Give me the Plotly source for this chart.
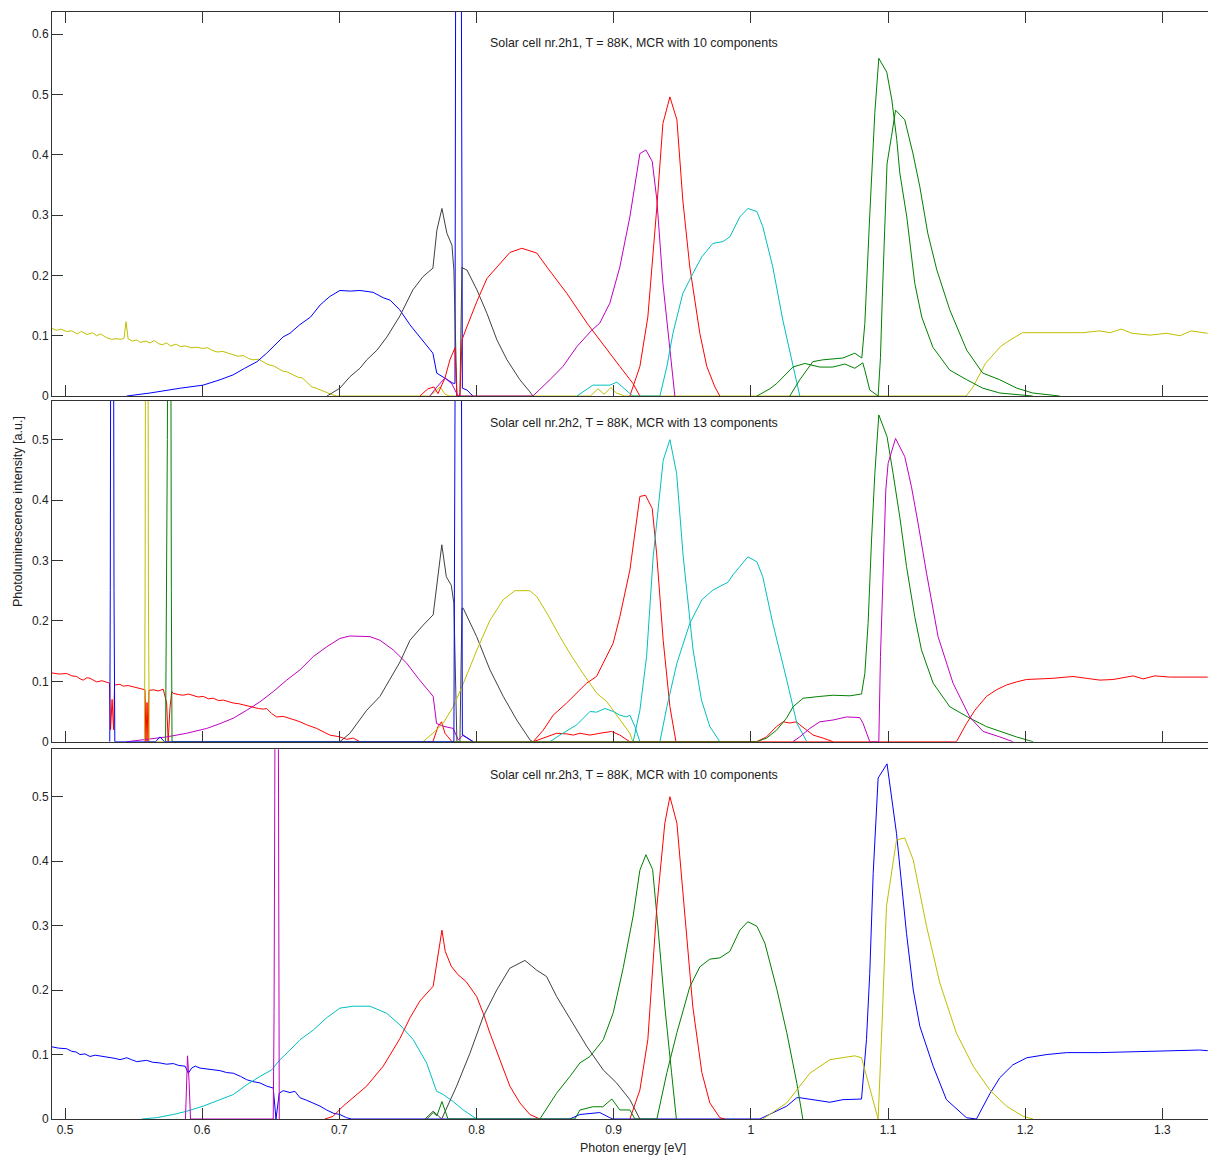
import plotly.graph_objects as go

# ---------------- data (photon energy [eV], intensity [a.u.]) ----------------
# Panel 1: Solar cell nr.2h1
top_yellow = [(0.4905, 0.112), (0.494, 0.109), (0.497, 0.111), (0.501, 0.107), (0.505, 0.108), (0.509, 0.103),
              (0.512, 0.107), (0.516, 0.102), (0.520, 0.105), (0.523, 0.100), (0.526, 0.103), (0.530, 0.097),
              (0.534, 0.094), (0.538, 0.095), (0.541, 0.094), (0.543, 0.096), (0.5445, 0.123), (0.546, 0.095),
              (0.549, 0.091), (0.552, 0.093), (0.555, 0.089), (0.559, 0.091), (0.562, 0.088), (0.565, 0.092),
              (0.568, 0.087), (0.571, 0.085), (0.574, 0.088), (0.577, 0.083), (0.581, 0.086), (0.584, 0.082),
              (0.588, 0.083), (0.592, 0.080), (0.596, 0.081), (0.600, 0.079), (0.604, 0.080), (0.607, 0.076),
              (0.611, 0.073), (0.615, 0.074), (0.619, 0.071), (0.622, 0.069), (0.626, 0.066), (0.630, 0.067),
              (0.634, 0.062), (0.637, 0.060), (0.641, 0.061), (0.645, 0.056), (0.648, 0.052), (0.652, 0.050),
              (0.655, 0.046), (0.659, 0.041), (0.662, 0.040), (0.666, 0.035), (0.670, 0.031), (0.673, 0.030),
              (0.677, 0.022), (0.680, 0.015), (0.683, 0.013), (0.686, 0.010), (0.689, 0.007), (0.692, 0.005),
              (0.695, 0.002), (0.698, 0.0), (0.766, 0.0), (0.770, 0.008), (0.7735, 0.015), (0.777, 0.003),
              (0.780, 0.0), (0.883, 0.0), (0.8885, 0.012), (0.893, 0.003), (0.898, 0.014), (0.902, 0.005),
              (0.908, 0.0), (1.157, 0.0), (1.162, 0.015), (1.171, 0.054), (1.182, 0.082), (1.187, 0.090),
              (1.198, 0.105), (1.218, 0.105), (1.242, 0.105), (1.254, 0.108), (1.262, 0.105), (1.270, 0.111),
              (1.278, 0.104), (1.291, 0.101), (1.303, 0.104), (1.313, 0.100), (1.321, 0.108), (1.333, 0.104)]
top_blue = [(0.545, 0.0), (0.562, 0.005), (0.584, 0.013), (0.6006, 0.018), (0.613, 0.027), (0.6225, 0.035),
            (0.631, 0.046), (0.640, 0.057), (0.647, 0.071), (0.6545, 0.087), (0.659, 0.098), (0.664, 0.104),
            (0.671, 0.118), (0.679, 0.131), (0.686, 0.151), (0.693, 0.165), (0.7004, 0.175), (0.708, 0.174),
            (0.715, 0.175), (0.7245, 0.172), (0.732, 0.163), (0.737, 0.159), (0.744, 0.143), (0.7515, 0.118),
            (0.7587, 0.098), (0.7682, 0.071), (0.771, 0.038), (0.777, 0.030), (0.783, 0.021), (0.7843, 0.021),
            (0.785, 1.0), (0.7886, 1.0), (0.7897, 0.013), (0.793, 0.010), (0.7974, 0.0)]
top_black = [(0.691, 0.0), (0.7004, 0.013), (0.7077, 0.032), (0.715, 0.046), (0.72, 0.06), (0.7274, 0.076),
             (0.7347, 0.098), (0.7442, 0.133), (0.7536, 0.176), (0.761, 0.198), (0.7682, 0.212), (0.7711, 0.275),
             (0.7748, 0.311), (0.7784, 0.27), (0.7821, 0.25), (0.7835, 0.209), (0.7857, 0.0), (0.7879, 0.0),
             (0.7894, 0.214), (0.7901, 0.212), (0.793, 0.209), (0.8003, 0.176), (0.8076, 0.137), (0.8149, 0.093),
             (0.8222, 0.06), (0.8316, 0.027), (0.8389, 0.007), (0.8411, 0.0)]
top_red1 = [(0.7587, 0.0), (0.7646, 0.012), (0.769, 0.015), (0.7719, 0.004), (0.777, 0.03), (0.7806, 0.06),
            (0.7843, 0.08), (0.7857, 0.0), (0.7879, 0.0), (0.7894, 0.093), (0.793, 0.115), (0.8003, 0.157),
            (0.8076, 0.195), (0.8171, 0.22), (0.8243, 0.238), (0.833, 0.245), (0.844, 0.237), (0.8513, 0.214),
            (0.8659, 0.17), (0.8805, 0.121), (0.8951, 0.076), (0.9045, 0.049), (0.914, 0.021), (0.9191, 0.0)]
top_red2 = [(0.9118, 0.0), (0.9191, 0.049), (0.9249, 0.131), (0.9315, 0.314), (0.9359, 0.452), (0.941, 0.496),
            (0.9461, 0.458), (0.9504, 0.325), (0.9555, 0.214), (0.9628, 0.104), (0.9679, 0.049), (0.9738, 0.015),
            (0.9774, 0.0)]
top_magenta = [(0.766, 0.0), (0.7711, 0.015), (0.777, 0.03), (0.7821, 0.02), (0.7865, 0.0), (0.8411, 0.0),
               (0.8535, 0.027), (0.863, 0.049), (0.8732, 0.082), (0.884, 0.109), (0.8899, 0.121), (0.8972, 0.154),
               (0.9045, 0.214), (0.9118, 0.297), (0.9191, 0.402), (0.9235, 0.408), (0.9281, 0.389), (0.9315, 0.325),
               (0.9359, 0.187), (0.941, 0.076), (0.9446, 0.0)]
top_cyan = [(0.8732, 0.0), (0.8848, 0.018), (0.8921, 0.018), (0.8972, 0.018), (0.9023, 0.023), (0.9082, 0.012),
            (0.914, 0.0), (0.9337, 0.0), (0.9388, 0.049), (0.9432, 0.104), (0.9504, 0.17), (0.9577, 0.203),
            (0.9643, 0.231), (0.9723, 0.253), (0.9796, 0.256), (0.9847, 0.264), (0.992, 0.297), (0.9978, 0.311),
            (1.0044, 0.306), (1.0087, 0.281), (1.016, 0.214), (1.0233, 0.126), (1.0306, 0.049), (1.0357, 0.0)]
top_green1 = [(1.0044, 0.0), (1.0139, 0.012), (1.019, 0.021), (1.0306, 0.048), (1.0394, 0.054), (1.0503, 0.048),
              (1.0598, 0.048), (1.0685, 0.053), (1.0758, 0.046), (1.0816, 0.055), (1.0831, 0.043), (1.0867, 0.01),
              (1.0928, 0.0), (1.0945, 0.064), (1.096, 0.174), (1.0977, 0.285), (1.0993, 0.385), (1.1025, 0.43),
              (1.1055, 0.474), (1.1122, 0.458), (1.1181, 0.403), (1.1232, 0.347), (1.129, 0.27), (1.1356, 0.209),
              (1.145, 0.143), (1.1574, 0.076), (1.1691, 0.038), (1.1815, 0.027), (1.1939, 0.013), (1.2055, 0.005),
              (1.2252, 0.0)]
top_green2 = [(1.0284, 0.0), (1.0357, 0.027), (1.0452, 0.057), (1.0525, 0.06), (1.0671, 0.063), (1.0758, 0.071),
              (1.0809, 0.063), (1.0831, 0.12), (1.0867, 0.3), (1.0904, 0.47), (1.0933, 0.56), (1.0991, 0.537),
              (1.1028, 0.491), (1.1064, 0.425), (1.1086, 0.37), (1.1137, 0.297), (1.1195, 0.187), (1.1246, 0.131),
              (1.1327, 0.081), (1.145, 0.043), (1.1574, 0.027), (1.1691, 0.013), (1.1815, 0.005), (1.2055, 0.0)]

# Panel 2: Solar cell nr.2h2
mid_red1 = [(0.4903, 0.114), (0.4955, 0.112), (0.5012, 0.113), (0.5050, 0.109), (0.5085, 0.108), (0.5110, 0.104),
            (0.5133, 0.102), (0.5160, 0.106), (0.5182, 0.105), (0.5210, 0.101), (0.5231, 0.099), (0.5270, 0.101),
            (0.5304, 0.098), (0.5324, 0.097), (0.5332, 0.02), (0.5343, 0.07), (0.5354, 0.02), (0.5361, 0.095),
            (0.5364, 0.094), (0.5400, 0.095), (0.5425, 0.092), (0.5460, 0.093), (0.5498, 0.091), (0.5547, 0.088),
            (0.5583, 0.086), (0.559, 0.0), (0.5598, 0.065), (0.5605, 0.0), (0.5612, 0.085), (0.5644, 0.086),
            (0.5680, 0.084), (0.5716, 0.087), (0.5741, 0.064), (0.5752, 0.0), (0.5765, 0.056), (0.5778, 0.083),
            (0.5789, 0.08), (0.5830, 0.078), (0.5862, 0.077), (0.5900, 0.079), (0.5935, 0.077), (0.5970, 0.074),
            (0.6008, 0.075), (0.6045, 0.071), (0.6081, 0.072), (0.6120, 0.068), (0.6154, 0.069), (0.6190, 0.066),
            (0.6227, 0.064), (0.6265, 0.063), (0.63, 0.061), (0.6335, 0.059), (0.6372, 0.058), (0.6410, 0.055),
            (0.6445, 0.054), (0.647, 0.055), (0.6505, 0.047), (0.6543, 0.041), (0.6590, 0.042), (0.664, 0.039),
            (0.6675, 0.036), (0.6713, 0.033), (0.6762, 0.028), (0.6835, 0.022), (0.6880, 0.017), (0.6931, 0.011),
            (0.7004, 0.008), (0.7053, 0.004), (0.7101, 0.006), (0.715, 0.0), (0.7682, 0.0), (0.7719, 0.025),
            (0.7745, 0.033), (0.777, 0.014), (0.7792, 0.008), (0.7821, 0.0), (1.1499, 0.0), (1.1572, 0.03),
            (1.1633, 0.052), (1.1718, 0.075), (1.1791, 0.086), (1.1864, 0.094), (1.1937, 0.099), (1.2009, 0.103),
            (1.2203, 0.105), (1.2349, 0.108), (1.2447, 0.105), (1.2544, 0.102), (1.2641, 0.103), (1.2787, 0.109),
            (1.286, 0.104), (1.2945, 0.109), (1.3054, 0.107), (1.3176, 0.107), (1.3331, 0.107)]
mid_red2 = [(0.8413, 0.0), (0.8486, 0.019), (0.8559, 0.044), (0.8657, 0.064), (0.8754, 0.086), (0.8803, 0.097),
            (0.8875, 0.108), (0.8948, 0.141), (0.8996, 0.163), (0.9045, 0.207), (0.9118, 0.284), (0.9191, 0.406),
            (0.9232, 0.408), (0.9281, 0.386), (0.9313, 0.312), (0.9361, 0.168), (0.941, 0.058), (0.9454, 0.0)]
mid_red3 = [(0.8413, 0.0), (0.8511, 0.008), (0.8584, 0.014), (0.8657, 0.013), (0.8705, 0.011), (0.8754, 0.014),
            (0.8827, 0.011), (0.8899, 0.014), (0.8985, 0.017), (0.9045, 0.011), (0.9118, 0.0), (1.0042, 0.0),
            (1.0114, 0.008), (1.0187, 0.025), (1.0236, 0.033), (1.0284, 0.031), (1.0333, 0.033), (1.0357, 0.028),
            (1.0406, 0.019), (1.0454, 0.011), (1.0527, 0.006), (1.06, 0.0)]
mid_blue = [(0.5326, 0.0), (0.533, 0.25), (0.5335, 1.0), (0.5352, 1.0), (0.5357, 0.25), (0.5363, 0.0),
            (0.566, 0.0), (0.5692, 0.008), (0.5725, 0.0), (0.7835, 0.0), (0.785, 1.0), (0.7886, 1.0),
            (0.7897, 0.011), (0.7976, 0.0)]
mid_yellow = [(0.5579, 0.0), (0.5584, 0.25), (0.5588, 1.0), (0.5603, 1.0), (0.5608, 0.25), (0.5614, 0.0),
              (0.7609, 0.0), (0.7682, 0.014), (0.7755, 0.03), (0.783, 0.058), (0.7894, 0.091), (0.8003, 0.152),
              (0.8098, 0.201), (0.8194, 0.235), (0.828, 0.25), (0.8389, 0.25), (0.844, 0.24), (0.8513, 0.213),
              (0.8608, 0.174), (0.8681, 0.146), (0.8776, 0.113), (0.8878, 0.08), (0.8951, 0.066), (0.9045, 0.036),
              (0.9118, 0.014), (0.914, 0.0)]
mid_green = [(0.5733, 0.0), (0.5738, 0.165), (0.5746, 0.5), (0.5754, 1.0), (0.5769, 1.0), (0.5775, 0.25),
             (0.578, 0.0), (1.0042, 0.0), (1.0114, 0.006), (1.0187, 0.019), (1.026, 0.039), (1.0308, 0.058),
             (1.0381, 0.072), (1.0503, 0.075), (1.06, 0.077), (1.0722, 0.076), (1.0807, 0.079), (1.0831, 0.113),
             (1.0855, 0.196), (1.088, 0.334), (1.0904, 0.444), (1.0933, 0.541), (1.0993, 0.505), (1.1037, 0.444),
             (1.1086, 0.372), (1.1135, 0.29), (1.1195, 0.207), (1.1244, 0.152), (1.1329, 0.097), (1.145, 0.058),
             (1.1596, 0.039), (1.1718, 0.025), (1.1815, 0.017), (1.1936, 0.008), (1.2058, 0.0)]
mid_magenta1 = [(0.545, 0.0), (0.5571, 0.003), (0.5692, 0.006), (0.5741, 0.008), (0.5887, 0.014), (0.6033, 0.022),
                (0.613, 0.03), (0.6227, 0.039), (0.6324, 0.052), (0.6421, 0.066), (0.6518, 0.083), (0.6616, 0.102),
                (0.6713, 0.119), (0.681, 0.141), (0.6907, 0.157), (0.7004, 0.171), (0.7077, 0.175), (0.715, 0.174),
                (0.7223, 0.174), (0.7296, 0.168), (0.7393, 0.152), (0.7442, 0.141), (0.7491, 0.13), (0.7575, 0.105),
                (0.7684, 0.075), (0.7709, 0.03), (0.777, 0.025), (0.783, 0.022), (0.7867, 0.003), (0.7903, 0.011),
                (0.7976, 0.0)]
mid_magenta2 = [(1.0306, 0.0), (1.0357, 0.008), (1.043, 0.022), (1.0503, 0.033), (1.06, 0.036), (1.0697, 0.041),
                (1.0794, 0.04), (1.0819, 0.03), (1.0867, 0.0), (1.0933, 0.0), (1.0945, 0.141), (1.0964, 0.279),
                (1.0984, 0.417), (1.1001, 0.461), (1.1055, 0.502), (1.1122, 0.472), (1.1171, 0.422), (1.1219, 0.362),
                (1.1281, 0.279), (1.1365, 0.174), (1.1474, 0.097), (1.1596, 0.041), (1.1693, 0.017), (1.1815, 0.008),
                (1.1912, 0.0)]
mid_black = [(0.7004, 0.0), (0.7077, 0.014), (0.7199, 0.052), (0.7296, 0.075), (0.7442, 0.132), (0.7515, 0.168),
             (0.7611, 0.193), (0.7684, 0.21), (0.7747, 0.326), (0.778, 0.273), (0.7816, 0.259), (0.7835, 0.229),
             (0.7857, 0.0), (0.7879, 0.0), (0.7894, 0.221), (0.7903, 0.221), (0.8001, 0.174), (0.8098, 0.119),
             (0.8195, 0.075), (0.8293, 0.036), (0.839, 0.003), (0.8411, 0.0)]
mid_cyan1 = [(0.9142, 0.0), (0.9191, 0.052), (0.924, 0.141), (0.9288, 0.306), (0.9361, 0.466), (0.941, 0.5),
             (0.9459, 0.444), (0.9507, 0.306), (0.9579, 0.152), (0.964, 0.069), (0.9701, 0.025), (0.9774, 0.0)]
mid_cyan2 = [(0.9337, 0.0), (0.9388, 0.058), (0.9461, 0.13), (0.9555, 0.196), (0.9643, 0.235), (0.9723, 0.251),
             (0.9833, 0.264), (0.9869, 0.276), (0.9978, 0.306), (1.0044, 0.298), (1.0087, 0.273), (1.016, 0.196),
             (1.0262, 0.102), (1.0335, 0.031), (1.0408, 0.0)]
mid_cyan3 = [(0.8535, 0.0), (0.8608, 0.011), (0.8731, 0.028), (0.8827, 0.05), (0.8876, 0.049), (0.8936, 0.055),
             (0.8997, 0.05), (0.9045, 0.044), (0.9094, 0.041), (0.9118, 0.044), (0.9155, 0.025), (0.9191, 0.0)]

# Panel 3: Solar cell nr.2h3
bot_blue = [(0.4903, 0.112), (0.4951, 0.11), (0.5012, 0.109), (0.5049, 0.105), (0.5080, 0.104), (0.5109, 0.1),
            (0.5145, 0.101), (0.5182, 0.097), (0.5220, 0.099), (0.5255, 0.098), (0.5290, 0.096), (0.5328, 0.095),
            (0.5365, 0.094), (0.5401, 0.092), (0.545, 0.095), (0.5485, 0.092), (0.5523, 0.089), (0.5595, 0.091),
            (0.5640, 0.088), (0.5692, 0.087), (0.5740, 0.085), (0.5789, 0.086), (0.5830, 0.083), (0.5875, 0.082),
            (0.5899, 0.071), (0.5923, 0.079), (0.5950, 0.082), (0.5984, 0.079), (0.6081, 0.076), (0.6130, 0.075),
            (0.6179, 0.072), (0.6227, 0.071), (0.6280, 0.066), (0.6324, 0.061), (0.6370, 0.058), (0.6421, 0.056),
            (0.647, 0.051), (0.6518, 0.048), (0.6538, 0.0), (0.6562, 0.04), (0.6591, 0.044), (0.664, 0.041),
            (0.6676, 0.043), (0.6713, 0.033), (0.6762, 0.029), (0.681, 0.025), (0.6859, 0.02), (0.6907, 0.014),
            (0.6956, 0.009), (0.7004, 0.007), (0.7053, 0.002), (0.709, 0.0), (0.8681, 0.0), (0.8754, 0.007),
            (0.8899, 0.01), (0.8972, 0.002), (0.8994, 0.0), (1.0066, 0.0), (1.0262, 0.02), (1.0335, 0.033),
            (1.0357, 0.033), (1.0576, 0.026), (1.0671, 0.03), (1.0807, 0.031), (1.0843, 0.123), (1.0867, 0.226),
            (1.0892, 0.381), (1.0928, 0.529), (1.0993, 0.551), (1.1062, 0.443), (1.1135, 0.288), (1.1184, 0.2),
            (1.1232, 0.144), (1.1329, 0.082), (1.1426, 0.03), (1.1572, 0.002), (1.1645, 0.0), (1.1742, 0.039),
            (1.1815, 0.064), (1.191, 0.084), (1.2012, 0.095), (1.2157, 0.1), (1.2303, 0.103), (1.2544, 0.103),
            (1.2784, 0.104), (1.3032, 0.105), (1.3272, 0.107), (1.3331, 0.106)]
bot_cyan = [(0.5558, 0.0), (0.5667, 0.002), (0.5789, 0.007), (0.5887, 0.012), (0.6008, 0.02), (0.613, 0.03),
            (0.6227, 0.038), (0.6324, 0.053), (0.6421, 0.066), (0.6506, 0.076), (0.6567, 0.092), (0.664, 0.107),
            (0.6713, 0.123), (0.681, 0.138), (0.6907, 0.157), (0.7004, 0.172), (0.7101, 0.175), (0.7223, 0.175),
            (0.7345, 0.164), (0.7442, 0.146), (0.7539, 0.123), (0.7636, 0.087), (0.7709, 0.043), (0.7757, 0.038),
            (0.783, 0.027), (0.7903, 0.014), (0.8001, 0.0)]
bot_red1 = [(0.6895, 0.0), (0.6953, 0.004), (0.7028, 0.02), (0.7101, 0.033), (0.7199, 0.051), (0.732, 0.082),
            (0.7442, 0.125), (0.7515, 0.157), (0.7587, 0.183), (0.7684, 0.206), (0.7721, 0.257), (0.7748, 0.293),
            (0.7772, 0.26), (0.7816, 0.237), (0.7864, 0.224), (0.7925, 0.213), (0.8001, 0.19), (0.8049, 0.164),
            (0.8098, 0.133), (0.8171, 0.092), (0.8243, 0.051), (0.8316, 0.025), (0.8389, 0.007), (0.8462, 0.0)]
bot_red2 = [(0.9118, 0.0), (0.9191, 0.045), (0.9249, 0.123), (0.9315, 0.33), (0.9373, 0.459), (0.941, 0.5),
            (0.9461, 0.459), (0.9504, 0.356), (0.9577, 0.174), (0.9643, 0.072), (0.9701, 0.025), (0.9774, 0.002),
            (0.981, 0.0)]
bot_black = [(0.7624, 0.0), (0.7684, 0.012), (0.7721, 0.005), (0.7746, 0.0), (0.7855, 0.051), (0.7952, 0.102),
             (0.8049, 0.159), (0.8147, 0.2), (0.8243, 0.234), (0.8353, 0.246), (0.8438, 0.231), (0.8511, 0.221),
             (0.8584, 0.19), (0.8657, 0.164), (0.8803, 0.113), (0.8924, 0.076), (0.9021, 0.056), (0.9118, 0.03),
             (0.9191, 0.0)]
bot_green1 = [(0.8462, 0.0), (0.8584, 0.04), (0.8681, 0.066), (0.8754, 0.087), (0.8827, 0.097), (0.8924, 0.123),
              (0.8997, 0.165), (0.907, 0.235), (0.9142, 0.315), (0.9191, 0.386), (0.9235, 0.41), (0.9284, 0.387),
              (0.932, 0.304), (0.9373, 0.174), (0.9422, 0.072), (0.9457, 0.0)]
bot_green2 = [(0.7638, 0.0), (0.7684, 0.01), (0.7711, 0.005), (0.7748, 0.027), (0.7792, 0.0), (0.8717, 0.0),
              (0.8754, 0.014), (0.8848, 0.019), (0.8921, 0.019), (0.8987, 0.031), (0.9045, 0.014), (0.9118, 0.014),
              (0.9155, 0.0), (0.9315, 0.0), (0.9388, 0.072), (0.9461, 0.134), (0.9555, 0.205), (0.9628, 0.236),
              (0.9701, 0.248), (0.9774, 0.25), (0.9847, 0.26), (0.992, 0.293), (0.9978, 0.306), (1.0044, 0.299),
              (1.0102, 0.273), (1.019, 0.201), (1.0262, 0.134), (1.0335, 0.056), (1.0379, 0.0)]
bot_yellow = [(1.0088, 0.0), (1.0262, 0.025), (1.0357, 0.051), (1.043, 0.071), (1.0576, 0.092), (1.0673, 0.095),
              (1.0758, 0.098), (1.0807, 0.095), (1.0843, 0.066), (1.0928, 0.0), (1.0952, 0.123), (1.0989, 0.33),
              (1.1062, 0.433), (1.1122, 0.436), (1.1184, 0.402), (1.1281, 0.299), (1.1378, 0.211), (1.1499, 0.133),
              (1.1621, 0.082), (1.1742, 0.045), (1.1864, 0.02), (1.1985, 0.004), (1.2058, 0.0)]
bot_magenta = [(0.5878, 0.0), (0.5886, 0.05), (0.5893, 0.098), (0.5904, 0.06), (0.5915, 0.0), (0.6518, 0.0),
               (0.6524, 0.165), (0.6529, 0.5), (0.6536, 1.0), (0.6551, 1.0), (0.6557, 0.165), (0.6562, 0.0)]

panel_titles = ["Solar cell nr.2h1, T = 88K, MCR with 10 components",
                "Solar cell nr.2h2, T = 88K, MCR with 13 components",
                "Solar cell nr.2h3, T = 88K, MCR with 10 components"]
x_ticks = [0.5, 0.6, 0.7, 0.8, 0.9, 1.0, 1.1, 1.2, 1.3]
x_tick_labels = ["0.5", "0.6", "0.7", "0.8", "0.9", "1", "1.1", "1.2", "1.3"]
y_ticks_top = [0, 0.1, 0.2, 0.3, 0.4, 0.5, 0.6]
y_ticks_other = [0, 0.1, 0.2, 0.3, 0.4, 0.5]
x_title = "Photon energy [eV]"
y_title = "Photoluminescence intensity [a.u.]"

# ---------------- styles ----------------
C = dict(b="#0000ff", g="#008000", r="#ff0000", c="#00bfbf", m="#bf00bf", y="#bfbf00", k="#404040")

panels = [
    ("x", "y", [(top_yellow, "y"), (top_blue, "b"), (top_black, "k"), (top_red1, "r"), (top_magenta, "m"),
                (top_red2, "r"), (top_cyan, "c"), (top_green1, "g"), (top_green2, "g")]),
    ("x2", "y2", [(mid_red1, "r"), (mid_magenta1, "m"), (mid_black, "k"), (mid_yellow, "y"), (mid_red3, "r"),
                  (mid_cyan3, "c"), (mid_red2, "r"), (mid_cyan1, "c"), (mid_cyan2, "c"), (mid_green, "g"),
                  (mid_magenta2, "m"), (mid_blue, "b")]),
    ("x3", "y3", [(bot_blue, "b"), (bot_cyan, "c"), (bot_red1, "r"), (bot_black, "k"), (bot_green1, "g"),
                  (bot_red2, "r"), (bot_green2, "g"), (bot_yellow, "y"), (bot_magenta, "m")]),
]

fig = go.Figure()
for xa, ya, series in panels:
    for pts, col in series:
        fig.add_trace(go.Scatter(x=[p[0] for p in pts], y=[p[1] for p in pts], mode="lines",
                                 line=dict(color=C[col], width=1), xaxis=xa, yaxis=ya,
                                 showlegend=False, hoverinfo="skip"))

FONT = "Liberation Sans, Arial, sans-serif"
AX = "#333333"
XR = [0.4905, 1.3333]


def xax(anchor, labels, mirror):
    return dict(domain=[0, 1], anchor=anchor, range=XR, tickmode="array", tickvals=x_ticks,
                ticktext=x_tick_labels, showticklabels=labels, ticks="inside", ticklen=11, tickcolor=AX,
                showline=True, linecolor=AX, linewidth=1, mirror=mirror, showgrid=False, zeroline=False,
                tickfont=dict(family=FONT, size=12, color="#222222"))


def yax(anchor, dom, rng, tv):
    return dict(domain=dom, anchor=anchor, range=rng, tickmode="array", tickvals=tv,
                ticktext=[("0" if v == 0 else f"{v:.1f}") for v in tv], ticks="inside", ticklen=11,
                tickcolor=AX, showline=True, linecolor=AX, linewidth=1, mirror=False, showgrid=False,
                zeroline=False, tickfont=dict(family=FONT, size=12, color="#222222"))


fig.update_layout(
    width=1208, height=1155, margin=dict(l=52, r=0, t=12, b=36),
    paper_bgcolor="white", plot_bgcolor="white",
    xaxis=xax("y", False, "ticks"),
    xaxis2=xax("y2", False, True),
    xaxis3=xax("y3", True, True),
    yaxis=yax("x", [0.6531, 1.0], [0, 0.6368], y_ticks_top),
    yaxis2=yax("x2", [0.3408, 0.6486], [0, 0.564], y_ticks_other),
    yaxis3=yax("x3", [0.0, 0.334], [0, 0.5736], y_ticks_other),
)

ann_font = dict(family=FONT, size=12.4, color="#222222")
for txt, yp in zip(panel_titles, [0.9723, 0.6285, 0.3108]):
    fig.add_annotation(text=txt, x=0.5035, y=yp, xref="paper", yref="paper", showarrow=False,
                       xanchor="center", yanchor="middle", font=ann_font)
fig.add_annotation(text=x_title, x=0.503, y=-0.0262, xref="paper", yref="paper", showarrow=False,
                   xanchor="center", yanchor="middle", font=ann_font)
fig.add_annotation(text=y_title, x=-0.0294, y=0.5483, xref="paper", yref="paper", showarrow=False,
                   xanchor="center", yanchor="middle", textangle=-90,
                   font=dict(family=FONT, size=12.6, color="#222222"))

# remove the browser's default page margin so the figure sits at the window's top-left corner
fig.write_html("out.html", config={"displayModeBar": False},
               post_script="document.body.style.margin='0';document.body.style.overflow='hidden';")
